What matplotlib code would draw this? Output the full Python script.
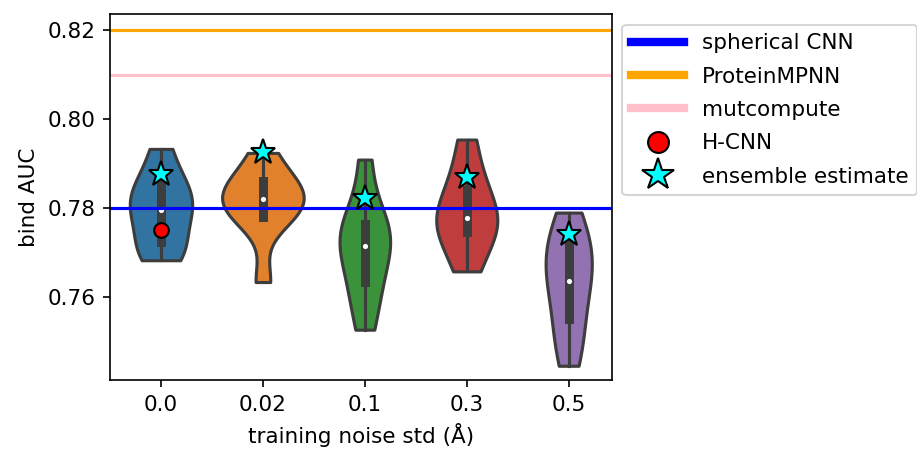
import matplotlib
matplotlib.use('Agg')
import matplotlib.pyplot as plt
from matplotlib.lines import Line2D
import numpy as np
import pandas as pd
import seaborn as sns

plt.rcParams['font.size'] = 10.3

noise_levels = ['0.0', '0.02', '0.1', '0.3', '0.5']

# bind AUC of the individual models trained at each noise level
auc_0_0 = [0.7683, 0.7710, 0.7724, 0.7785, 0.7796, 0.7810, 0.7856, 0.7860, 0.7933]
auc_0_02 = [0.7634, 0.7775, 0.7781, 0.7810, 0.7820, 0.7830, 0.7861, 0.7865, 0.7924]
auc_0_1 = [0.7527, 0.7600, 0.7634, 0.7700, 0.7716, 0.7735, 0.7764, 0.7790, 0.7909]
auc_0_3 = [0.7658, 0.7705, 0.7747, 0.7760, 0.7778, 0.7805, 0.7840, 0.7880, 0.7954]
auc_0_5 = [0.7446, 0.7510, 0.7552, 0.7620, 0.7636, 0.7675, 0.7722, 0.7725, 0.7790]

ensemble_auc = [0.7876, 0.7927, 0.7823, 0.7869, 0.7742]
hcnn_auc = 0.775

spherical_cnn_auc = 0.78
proteinmpnn_auc = 0.82
mutcompute_auc = 0.81

rows = []
for lvl, vals in zip(noise_levels, [auc_0_0, auc_0_02, auc_0_1, auc_0_3, auc_0_5]):
    for v in vals:
        rows.append({'noise': lvl, 'auc': v})
df = pd.DataFrame(rows)

fig = plt.figure(figsize=(917 / 150, 455 / 150), dpi=150)
ax = fig.add_axes([110 / 917, 1 - 380 / 455, (611.5 - 110) / 917, (380 - 14) / 455])

sns.violinplot(data=df, x='noise', y='auc', hue='noise', palette='tab10',
               order=noise_levels, hue_order=noise_levels, cut=0, inner='box',
               density_norm='area', common_norm=True, bw_adjust=0.9,
               linewidth=1.5, legend=False, ax=ax,
               inner_kws=dict(box_width=4.3, whis_width=1.5, marker='o',
                              markersize=2.5, markeredgewidth=0))

ax.axhline(spherical_cnn_auc, color='blue', lw=1.5)
ax.axhline(proteinmpnn_auc, color='orange', lw=1.5)
ax.axhline(mutcompute_auc, color='pink', lw=1.5)

ax.plot([0], [hcnn_auc], 'o', color='red', mec='black', ms=7, zorder=5)
ax.plot(range(len(noise_levels)), ensemble_auc, '*', color='cyan', mec='black',
        ms=12.5, ls='none', zorder=6)

ax.set_xlim(-0.5, 4.42)
ax.set_ylim(0.7414, 0.8236)
ax.set_yticks([0.76, 0.78, 0.80, 0.82])
ax.set_xlabel('training noise std (Å)')
ax.set_ylabel('bind AUC')

handles = [
    Line2D([], [], color='blue', lw=4),
    Line2D([], [], color='orange', lw=4),
    Line2D([], [], color='pink', lw=4),
    Line2D([], [], marker='o', color='red', mec='black', ms=10, ls='none'),
    Line2D([], [], marker='*', color='cyan', mec='black', ms=16, ls='none'),
]
labels = ['spherical CNN', 'ProteinMPNN', 'mutcompute', 'H-CNN', 'ensemble estimate']
ax.legend(handles, labels, loc='upper left', bbox_to_anchor=(1, 1),
          handlelength=2.5, labelspacing=0.62)

fig.savefig('out.png', dpi=150)
